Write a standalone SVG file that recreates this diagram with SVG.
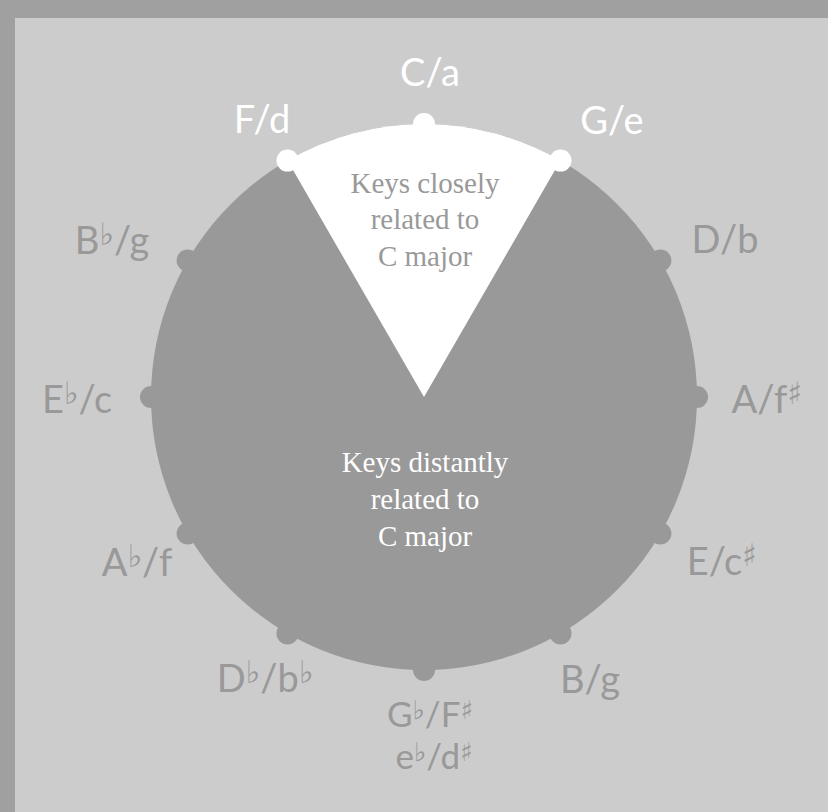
<svg xmlns="http://www.w3.org/2000/svg" width="828" height="812" viewBox="0 0 828 812">
  <style>
    .lbl { font-family: "Lato", "Liberation Sans", sans-serif; font-size: 38px; text-anchor: middle; }
    .sm { font-size: 35px; }
    .w { fill: #ffffff; }
    .g { fill: #999999; }
    .acc { font-family: "DejaVu Sans", sans-serif; font-size: 31px; }
    .acc2 { font-family: "DejaVu Sans", sans-serif; font-size: 26px; }
    .inner { font-family: "Liberation Serif", "Times New Roman", serif; font-size: 29px; text-anchor: middle; }
  </style>
  <rect x="0" y="0" width="828" height="812" fill="#a0a0a0"/>
  <rect x="15" y="18" width="813" height="794" fill="#cccccc"/>

  <g id="circle">
    <circle cx="424" cy="397" r="273" fill="#999999"/>
    <path d="M424,397 L287.5,160.6 A273,273 0 0 1 560.5,160.6 Z" fill="#ffffff"/>
  </g>

  <g id="dots">
    <circle cx="424" cy="124" r="11" fill="#ffffff"/>
    <circle cx="560.5" cy="160.6" r="11" fill="#ffffff"/>
    <circle cx="287.5" cy="160.6" r="11" fill="#ffffff"/>
    <circle cx="660.4" cy="260.5" r="11" fill="#999999"/>
    <circle cx="697" cy="397" r="11" fill="#999999"/>
    <circle cx="660.4" cy="533.5" r="11" fill="#999999"/>
    <circle cx="560.5" cy="633.4" r="11" fill="#999999"/>
    <circle cx="424" cy="670" r="11" fill="#999999"/>
    <circle cx="287.5" cy="633.4" r="11" fill="#999999"/>
    <circle cx="187.6" cy="533.5" r="11" fill="#999999"/>
    <circle cx="151" cy="397" r="11" fill="#999999"/>
    <circle cx="187.6" cy="260.5" r="11" fill="#999999"/>
  </g>

  <g id="inner-text">
    <text class="inner g" x="425" y="193">Keys closely</text>
    <text class="inner g" x="425" y="229">related to</text>
    <text class="inner g" x="425" y="266">C major</text>
    <text class="inner w" x="425" y="472">Keys distantly</text>
    <text class="inner w" x="425" y="509">related to</text>
    <text class="inner w" x="425" y="546">C major</text>
  </g>

  <g id="labels">
    <text id="l-C" class="lbl w" x="430" y="86">C/a</text>
    <text id="l-G" class="lbl w" x="612" y="134">G/e</text>
    <text id="l-F" class="lbl w" x="262" y="133">F/d</text>
    <text id="l-D" class="lbl g" x="725" y="253">D/b</text>
    <text id="l-A" class="lbl g" x="767" y="413">A/f<tspan class="acc" dy="-9">♯</tspan></text>
    <text id="l-E" class="lbl g" x="722" y="575">E/c<tspan class="acc" dy="-9">♯</tspan></text>
    <text id="l-B" class="lbl g" x="590" y="693">B/g</text>
    <text id="l-Gb" class="lbl sm g" x="430" y="727">G<tspan class="acc2" dy="-8">♭</tspan><tspan dy="8">/F</tspan><tspan class="acc2" dy="-8">♯</tspan></text>
    <text id="l-eb" class="lbl sm g" x="434" y="769">e<tspan class="acc2" dy="-8">♭</tspan><tspan dy="8">/d</tspan><tspan class="acc2" dy="-8">♯</tspan></text>
    <text id="l-Db" class="lbl g" x="265" y="692">D<tspan class="acc" dy="-9">♭</tspan><tspan dy="9">/b</tspan><tspan class="acc" dy="-9">♭</tspan></text>
    <text id="l-Ab" class="lbl g" x="137" y="576">A<tspan class="acc" dy="-9">♭</tspan><tspan dy="9">/f</tspan></text>
    <text id="l-Eb" class="lbl g" x="77" y="413">E<tspan class="acc" dy="-9">♭</tspan><tspan dy="9">/c</tspan></text>
    <text id="l-Bb" class="lbl g" x="112" y="254">B<tspan class="acc" dy="-9">♭</tspan><tspan dy="9">/g</tspan></text>
  </g>
</svg>
